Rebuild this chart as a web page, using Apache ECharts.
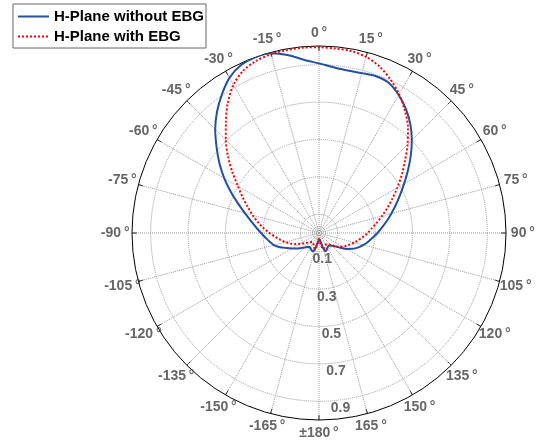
<!DOCTYPE html>
<html>
<head>
<meta charset="utf-8">
<script src="https://cdn.jsdelivr.net/npm/echarts@6/dist/echarts.min.js"></script>
<style>
html,body{margin:0;padding:0;background:#fff;}
#chart{width:540px;height:445px;}
</style>
</head>
<body>
<div id="chart"></div>
<script>
// Angles in degrees (0 at top, clockwise positive)
var angles = [-180,-175,-170,-165,-160,-155,-150,-145,-140,-135,-130,-125,-120,-115,-110,-105,-100,-95,-90,-85,-80,-75,-70,-65,-60,-55,-50,-45,-40,-35,-30,-25,-20,-15,-10,-5,0,5,10,15,20,25,30,35,40,45,50,55,60,65,70,75,80,85,90,95,100,105,110,115,120,125,130,135,140,145,150,155,160,165,170,175,180];

var withoutEBG = [0.033,0.045,0.065,0.095,0.104,0.098,0.092,0.09,0.098,0.11,0.125,0.145,0.165,0.19,0.222,0.25,0.268,0.287,0.31,0.337,0.37,0.41,0.46,0.52,0.585,0.65,0.715,0.785,0.848,0.905,0.958,0.99,1.0,0.995,0.967,0.93,0.907,0.89,0.882,0.885,0.892,0.885,0.852,0.81,0.76,0.702,0.64,0.58,0.525,0.478,0.437,0.4,0.368,0.338,0.313,0.288,0.267,0.246,0.224,0.2,0.17,0.135,0.11,0.096,0.088,0.087,0.09,0.098,0.104,0.08,0.045,0.035,0.033];

var withEBG = [0.028,0.045,0.07,0.09,0.08,0.068,0.063,0.06,0.063,0.07,0.08,0.097,0.115,0.14,0.163,0.187,0.21,0.235,0.265,0.297,0.332,0.367,0.405,0.45,0.5,0.565,0.635,0.705,0.775,0.85,0.915,0.958,0.98,0.99,0.993,0.995,0.993,0.99,0.988,0.975,0.947,0.905,0.857,0.8,0.74,0.67,0.6,0.54,0.483,0.432,0.388,0.348,0.313,0.283,0.26,0.237,0.215,0.196,0.177,0.162,0.147,0.128,0.11,0.092,0.08,0.074,0.072,0.075,0.083,0.09,0.07,0.045,0.028];

var seriesNames = ['H-Plane without EBG', 'H-Plane with EBG'];
var ringValues = [0.015, 0.035, 0.1, 0.3, 0.5, 0.7, 0.9];
var radiusLabels = [0.1, 0.3, 0.5, 0.7, 0.9];
var angleTicks = [-165,-150,-135,-120,-105,-90,-75,-60,-45,-30,-15,0,15,30,45,60,75,90,105,120,135,150,165,180];
var angleTickLabels = ['-165','-150','-135','-120','-105','-90','-75','-60','-45','-30','-15','0','15','30','45','60','75','90','105','120','135','150','165','\u00b1180'];

// layout constants (not data)
var ANGLE_LABEL_R = 1.07;     // label centres just outside the outer ring
var ANGLE_LABEL_R_SIDE = 0.02; // extra room for labels at the sides
var RADIUS_LABEL_ANGLE = 173;  // r-labels run along this direction
var RADIUS_LABEL_SHIFT = 0.043;

function pairs(vals) {
  return vals.map(function (r, i) { return [r, angles[i]]; });
}
function labelRadius(a) {
  var s = Math.sin(a * Math.PI / 180);
  return ANGLE_LABEL_R + ANGLE_LABEL_R_SIDE * s * s;
}

var FONT = 'Liberation Sans, Arial, sans-serif';
var labelStyle = { color: '#404040', fontWeight: 'bold', fontSize: 14, fontFamily: FONT };

var chart = echarts.init(document.getElementById('chart'), null, {renderer: 'canvas'});
chart.setOption({
  backgroundColor: '#fff',
  animation: false,
  polar: { center: [319, 233], radius: 187 },
  angleAxis: {
    type: 'value', min: -180, max: 180, interval: 15,
    startAngle: 270, clockwise: true,
    axisLine: { lineStyle: { color: '#000', width: 1 } },
    axisTick: { show: true, inside: true, length: 5, lineStyle: { color: '#000' } },
    axisLabel: { show: false },
    splitLine: { show: true, lineStyle: { type: 'dotted', color: '#999', width: 1 } }
  },
  radiusAxis: {
    type: 'value', min: 0, max: 1,
    axisLine: { show: false },
    axisTick: { show: false, customValues: ringValues },
    axisLabel: { show: false },
    splitLine: { show: true, lineStyle: { type: 'dotted', color: '#999', width: 1 } }
  },
  legend: {
    orient: 'vertical', left: 13, top: 4,
    padding: [5, 2, 4, 4], itemGap: 5, itemWidth: 31, itemHeight: 14,
    borderColor: '#666', borderWidth: 1, backgroundColor: '#fff',
    itemStyle: { opacity: 0 },
    textStyle: { fontSize: 15, fontWeight: 'bold', color: '#000', fontFamily: FONT },
    data: seriesNames
  },
  series: [
    {
      name: seriesNames[0], type: 'line', coordinateSystem: 'polar',
      data: pairs(withoutEBG), symbol: 'none', smooth: 0.3,
      lineStyle: { color: '#2350a0', width: 2 }, itemStyle: { color: '#2350a0' }, z: 3
    },
    {
      name: seriesNames[1], type: 'line', coordinateSystem: 'polar',
      data: pairs(withEBG), symbol: 'none', smooth: 0.3,
      lineStyle: { color: '#ff0000', width: 2, type: [2, 2] }, itemStyle: { color: '#ff0000' }, z: 4
    },
    {
      name: 'angleLabels', type: 'scatter', coordinateSystem: 'polar', clip: false, silent: true,
      symbolSize: 1, itemStyle: { color: 'rgba(0,0,0,0)' },
      data: angleTicks.map(function (a, i) {
        return { value: [labelRadius(a), a], name: angleTickLabels[i] + '\u2009\u00b0' };
      }),
      label: Object.assign({ show: true, position: 'inside', formatter: '{b}' }, labelStyle),
      z: 5
    },
    {
      name: 'radiusLabels', type: 'scatter', coordinateSystem: 'polar', clip: false, silent: true,
      symbolSize: 1, itemStyle: { color: 'rgba(0,0,0,0)' },
      data: radiusLabels.map(function (v) {
        return { value: [v + RADIUS_LABEL_SHIFT, RADIUS_LABEL_ANGLE], name: String(v) };
      }),
      label: Object.assign({ show: true, position: 'inside', formatter: '{b}' }, labelStyle),
      z: 5
    }
  ]
});
</script>
</body>
</html>
